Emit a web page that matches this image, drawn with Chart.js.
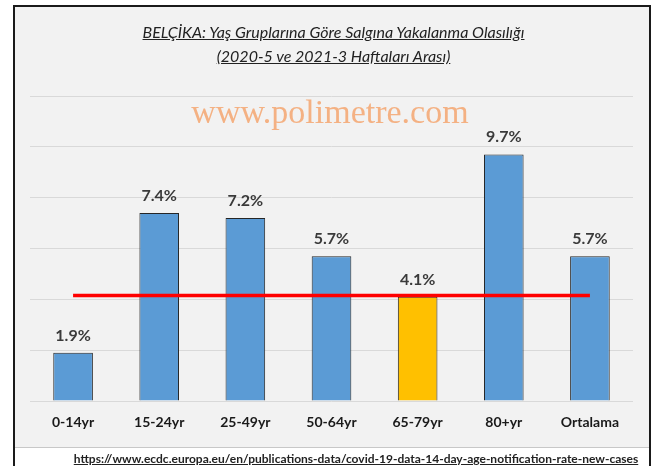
<!DOCTYPE html>
<html>
<head>
<meta charset="utf-8">
<script src="https://cdn.jsdelivr.net/npm/chart.js@4"></script>
<style>
  body { margin: 0; background: #fff; }
  #wrap { position: relative; width: 667px; height: 466px; }
  #title {
    position: absolute; left: 0; top: 20px; width: 667px;
    text-align: center; font: italic 16px Lato; line-height: 24px;
    color: #222; 
  }
  #title span { text-decoration: underline; }
  #mark {
    position: absolute; left: 130px; top: 94px; width: 400px;
    text-align: center; font: 34px "Liberation Serif"; line-height: 36px;
    color: #f4b183;
  }
  #source {
    position: absolute; left: 56px; top: 451px; width: 600px;
    text-align: center; font: bold 12px Lato; line-height: 16px;
    color: #222; text-decoration: underline;
  }
</style>
</head>
<body>
<div id="wrap">
  <canvas id="chart" width="667" height="466"></canvas>
  <div id="title"><span>BELÇİKA: Yaş Gruplarına Göre Salgına Yakalanma Olasılığı</span><br><span>(2020-5 ve 2021-3 Haftaları Arası)</span></div>
  <div id="mark">www.polimetre.com</div>
  <div id="source">https://www.ecdc.europa.eu/en/publications-data/covid-19-data-14-day-age-notification-rate-new-cases</div>
</div>
<script>
const categories = ["0-14yr", "15-24yr", "25-49yr", "50-64yr", "65-79yr", "80+yr", "Ortalama"];
const rates = [1.9, 7.4, 7.2, 5.7, 4.1, 9.7, 5.7];
const avgLine = [4.15, 4.15, 4.15, 4.15, 4.15, 4.15, 4.15];
const barColors = ["#5b9bd5", "#5b9bd5", "#5b9bd5", "#5b9bd5", "#ffc000", "#5b9bd5", "#5b9bd5"];
const yMax = 12;
const yStep = 2;

// gray panel + frame behind the chart
const panel = {
  id: "panel",
  beforeDraw(chart) {
    const ctx = chart.ctx;
    ctx.save();
    ctx.fillStyle = "#fff";
    ctx.fillRect(0, 0, chart.width, chart.height);
    ctx.fillStyle = "#f2f2f2";
    ctx.fillRect(14, 6, 636, 441);
    ctx.strokeStyle = "#c8c8c8";
    ctx.lineWidth = 1;
    ctx.beginPath();
    ctx.moveTo(14, 447.5);
    ctx.lineTo(650, 447.5);
    ctx.stroke();
    ctx.strokeStyle = "#1a1a1a";
    ctx.lineWidth = 2;
    ctx.beginPath();
    ctx.moveTo(14, 466);
    ctx.lineTo(14, 6);
    ctx.lineTo(650, 6);
    ctx.lineTo(650, 466);
    ctx.stroke();
    ctx.restore();
  }
};

// value labels above the bars
const barLabels = {
  id: "barLabels",
  afterDatasetsDraw(chart) {
    const ctx = chart.ctx;
    const meta = chart.getDatasetMeta(1);
    ctx.save();
    ctx.font = "bold 16px Lato";
    ctx.fillStyle = "#3a3a3a";
    ctx.textAlign = "center";
    ctx.textBaseline = "alphabetic";
    meta.data.forEach((bar, i) => {
      ctx.fillText(rates[i].toFixed(1) + "%", bar.x, bar.y - 12);
    });
    ctx.restore();
  }
};

new Chart(document.getElementById("chart"), {
  type: "bar",
  data: {
    labels: categories,
    datasets: [
      {
        type: "line",
        data: avgLine,
        borderColor: "#ff0000",
        borderWidth: 3.5,
        pointRadius: 0,
        fill: false,
        order: 0
      },
      {
        data: rates,
        backgroundColor: barColors,
        borderColor: "#262626",
        borderWidth: 1,
        barPercentage: 0.46,
        categoryPercentage: 1,
        order: 1
      }
    ]
  },
  options: {
    responsive: false,
    animation: false,
    layout: { padding: { left: 30, right: 34, top: 96, bottom: 19 } },
    plugins: {
      legend: { display: false },
      tooltip: { enabled: false }
    },
    scales: {
      x: {
        grid: { display: false, drawTicks: false },
        border: { display: false },
        ticks: {
          font: { family: "Lato", size: 14, weight: "bold" },
          color: "#1a1a1a",
          padding: 13
        },
        afterFit: s => { s.height = 46; }
      },
      y: {
        min: 0,
        max: yMax,
        ticks: { stepSize: yStep, display: false },
        grid: { color: "#d9d9d9", drawTicks: false },
        border: { display: false },
        afterFit: s => { s.width = 0; }
      }
    }
  },
  plugins: [panel, barLabels]
});
</script>
</body>
</html>
